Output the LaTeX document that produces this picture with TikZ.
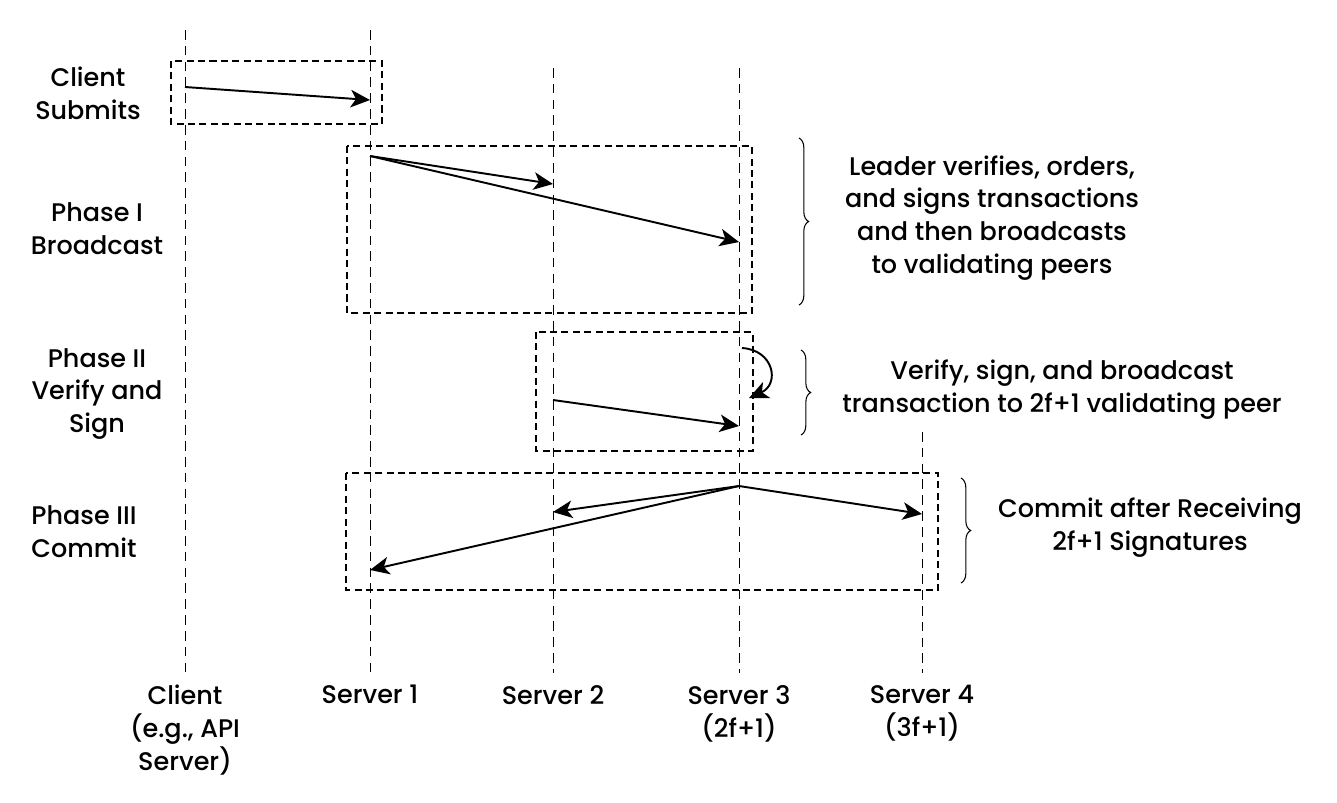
\documentclass[tikz,border=0pt]{standalone}
\usepackage{fontspec}
\setmainfont{Poppins}[UprightFont=* Medium]
\usetikzlibrary{arrows.meta,decorations.pathreplacing}

\tikzset{
  lifeline/.style={dash pattern=on 5.5pt off 3.5pt, line width=0.5pt},
  phasebox/.style={dash pattern=on 4pt off 2.5pt, line width=1.3pt},
  msg/.style={-{Stealth[length=11pt,width=10pt,inset=3pt]}, line width=1.1pt},
  curly/.style={decorate, decoration={brace, amplitude=5.5pt}, line width=0.6pt},
  lbl/.style={align=center, font=\fontsize{14.5}{18.7}\selectfont, inner sep=0pt}
}

\begin{document}
\begin{tikzpicture}[x=0.02cm, y=-0.02cm]
    \useasboundingbox (0,0) rectangle (1337,802);

    % Participants at the bottom
    \node[lbl, anchor=north] (client) at (185,685) {Client\\(e.g., API\\Server)};
    \node[lbl, anchor=north] (srvA) at (370,685) {Server 1};
    \node[lbl, anchor=north] (srvB) at (553,685) {Server 2};
    \node[lbl, anchor=north] (srvC) at (739,685) {Server 3\\(2f+1)};
    \node[lbl, anchor=north] (srvD) at (922,685) {Server 4\\(3f+1)};

    \coordinate (clientTop) at (185,30);
    \coordinate (srvATop) at (370,30);
    \coordinate (srvBTop) at (553,68);
    \coordinate (srvCTop) at (739,68);
    \coordinate (srvDTop) at (922,432);

    % Lifelines
    \foreach \p in {client,srvA,srvB,srvC,srvD}
        \draw[lifeline, shorten >=14\pgflinewidth] (\p Top) -- (\p.north);

    % Phase boxes
    \draw[phasebox] (171,61) rectangle (382,124);
    \draw[phasebox] (347,146) rectangle (752,313);
    \draw[phasebox] (536,332) rectangle (753,451);
    \draw[phasebox] (346,473) rectangle (938,590);

    % Phase names
    \node[lbl] (submit) at (88,93) {Client\\Submits};
    \node[lbl] (phaseA) at (97,229) {Phase I\\Broadcast};
    \node[lbl] (phaseB) at (97,394) {Phase II\\Verify and\\Sign};
    \node[lbl] (phaseC) at (84,532) {Phase III\\Commit};

    % Message points
    \coordinate (cs0) at (185,87);
    \coordinate (cs1) at (370,100);
    \coordinate (p1a) at (370,156);
    \coordinate (p1b) at (553,184);
    \coordinate (p1c) at (739,242);
    \coordinate (p2s) at (742,348);
    \coordinate (p2e) at (749,398);
    \coordinate (p2a) at (553,400);
    \coordinate (p2b) at (739,426);
    \coordinate (p3a) at (739,486);
    \coordinate (p3b) at (553,512);
    \coordinate (p3c) at (370,570);
    \coordinate (p3d) at (922,514);

    % Messages
    \draw[msg] (cs0) -- (cs1);
    \draw[msg] (p1a) -- (p1b);
    \draw[msg] (p1a) -- (p1c);
    \draw[msg] (p2s) .. controls (774,350) and (780,384) .. (p2e);
    \draw[msg] (p2a) -- (p2b);
    \draw[msg] (p3a) -- (p3b);
    \draw[msg] (p3a) -- (p3c);
    \draw[msg] (p3a) -- (p3d);

    % Braces and notes
    \draw[curly] (799,138) -- (799,305);
    \draw[curly] (801,350) -- (801,435);
    \draw[curly] (961,478) -- (961,583);

    \node[lbl] (noteA) at (992,218) {Leader verifies, orders,\\and signs transactions\\and then broadcasts\\to validating peers};
    \node[lbl] (noteB) at (1062,390) {Verify, sign, and broadcast\\transaction to 2f+1 validating peer};
    \node[lbl] (noteC) at (1150,528) {Commit after Receiving\\2f+1 Signatures};
\end{tikzpicture}
\end{document}
